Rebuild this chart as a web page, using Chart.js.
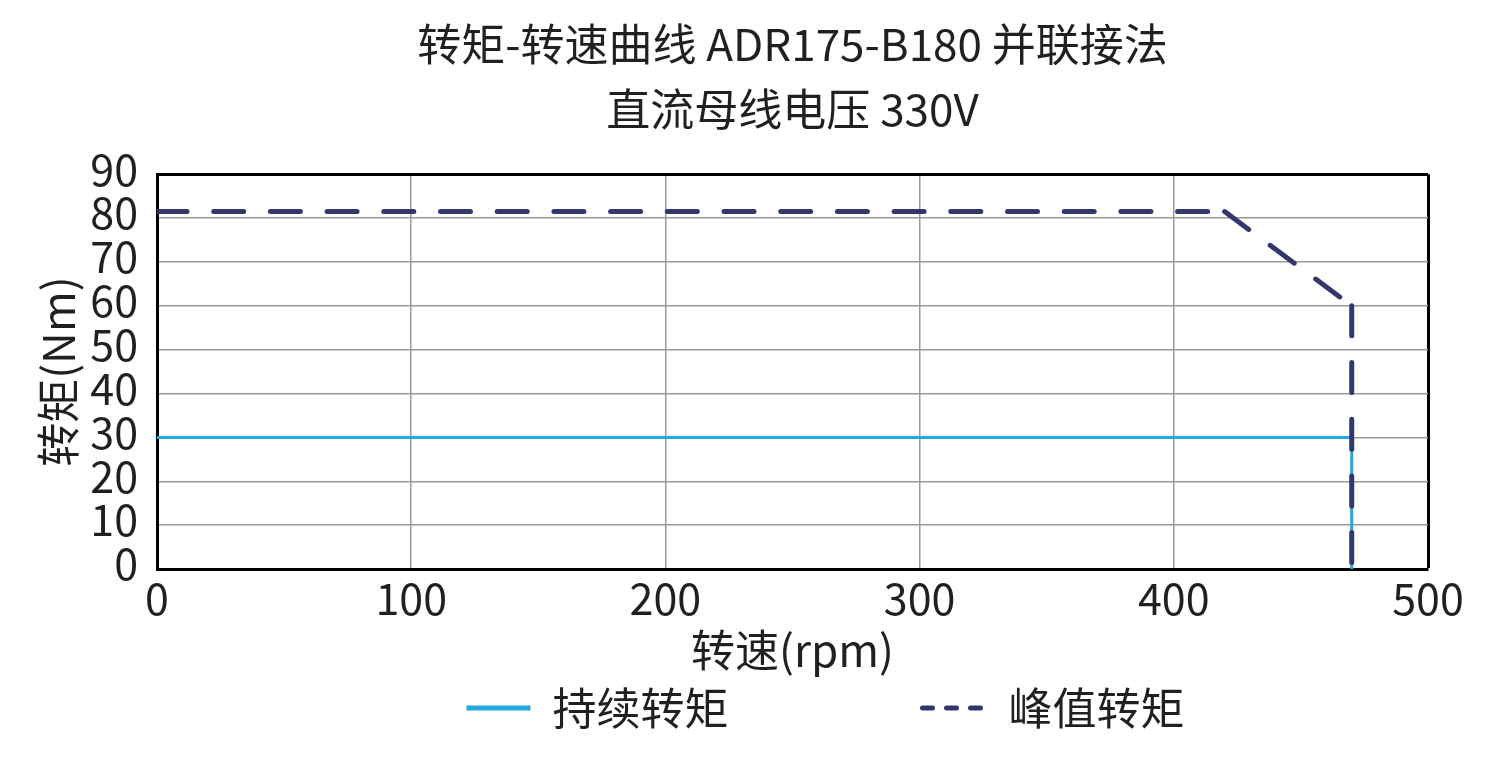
<!DOCTYPE html>
<html>
<head>
<meta charset="utf-8">
<script src="https://cdn.jsdelivr.net/npm/chart.js@4"></script>
<style>
  html, body { margin: 0; padding: 0; background: #fff; }
  #wrap { width: 1512px; height: 758px; }
</style>
</head>
<body>
<div id="wrap"><canvas id="myChart"></canvas></div>
<script>
// data
var speedCont = [0, 470, 470];
var torqueCont = [30, 30, 0];
var speedPeak = [0, 420, 470, 470];
var torquePeak = [81.5, 81.5, 60, 0];
var xTicks = [0, 100, 200, 300, 400, 500];
var yTicks = [0, 10, 20, 30, 40, 50, 60, 70, 80, 90];

var FONT = '"Noto Sans CJK SC", "Noto Sans", sans-serif';
var INK = '#231f20';

function pts(xs, ys) {
    return xs.map(function (x, i) { return { x: x, y: ys[i] }; });
}

// invisible legend entry, used only to space the real ones
function spacer(txt) {
    return {
        text: txt,
        fillStyle: 'rgba(0,0,0,0)',
        strokeStyle: 'rgba(0,0,0,0)',
        lineWidth: 0,
        pointStyle: 'line',
        hidden: false,
        datasetIndex: -1
    };
}

var ctx = document.getElementById('myChart').getContext('2d');

var chart = new Chart(ctx, {
    type: 'scatter',
    data: {
        datasets: [{
            label: '持续转矩',
            data: pts(speedCont, torqueCont),
            showLine: true,
            borderColor: '#22a9e0',
            backgroundColor: '#22a9e0',
            borderWidth: 3,
            pointRadius: 0,
            order: 2
        },
        {
            label: '峰值转矩',
            data: pts(speedPeak, torquePeak),
            showLine: true,
            borderColor: '#34376b',
            backgroundColor: '#34376b',
            borderWidth: 5,
            borderDash: [30, 26.7],
            borderCapStyle: 'round',
            // each segment restarts its dash pattern at its own start
            segment: {
                borderDashOffset: function (c) { return c.p0DataIndex * 0.01; }
            },
            pointRadius: 0,
            order: 1
        }]
    },
    options: {
        responsive: true,
        maintainAspectRatio: false,
        animation: false,
        layout: { padding: { left: 20, right: 84, top: 0, bottom: 18 } },
        plugins: {
            title: {
                display: true,
                text: ['转矩-转速曲线 ADR175-B180 并联接法', '直流母线电压 330V'],
                color: INK,
                fullSize: false,
                font: { family: FONT, size: 44, weight: 'normal', lineHeight: 1.48 },
                padding: { top: 12, bottom: 32 }
            },
            legend: {
                position: 'bottom',
                fullSize: false,
                labels: {
                    color: INK,
                    font: { family: FONT, size: 44 },
                    usePointStyle: true,
                    pointStyleWidth: 64,
                    padding: 10,
                    generateLabels: function (c) {
                        var items = Chart.defaults.plugins.legend.labels.generateLabels(c);
                        items.sort(function (a, b) { return a.datasetIndex - b.datasetIndex; });
                        items.forEach(function (it) {
                            it.pointStyle = 'line';
                            it.lineWidth = 5;
                            if (it.datasetIndex === 1) {
                                it.lineDash = [10, 14];
                                it.lineCap = 'round';
                            }
                        });
                        return [spacer('\u3000\u2002'), items[0], spacer('\u3000\u3000'), items[1], spacer('')];
                    }
                },
                onClick: function () {}
            },
            tooltip: { enabled: false }
        },
        scales: {
            x: {
                type: 'linear',
                min: 0,
                max: 500,
                afterBuildTicks: function (s) { s.ticks = xTicks.map(function (v) { return { value: v }; }); },
                afterFit: function (s) { s.height = 107; },
                grid: {
                    drawTicks: false,
                    color: function (c) { return c.tick && c.tick.value === 500 ? '#000' : '#9a9a9a'; },
                    lineWidth: function (c) { return c.tick && c.tick.value === 500 ? 3 : 1.5; }
                },
                border: { color: '#000', width: 3 },
                ticks: { color: INK, padding: 4, autoSkip: false, maxRotation: 0, font: { family: FONT, size: 43 } },
                title: {
                    display: true,
                    text: '转速(rpm)',
                    color: INK,
                    font: { family: FONT, size: 44, lineHeight: 1.1 },
                    padding: { top: 0, bottom: 2 }
                }
            },
            y: {
                type: 'linear',
                min: 0,
                max: 90,
                afterBuildTicks: function (s) { s.ticks = yTicks.map(function (v) { return { value: v }; }); },
                afterFit: function (s) { s.width = 137; },
                grid: {
                    drawTicks: false,
                    color: function (c) { return c.tick && c.tick.value === 90 ? '#000' : '#9a9a9a'; },
                    lineWidth: function (c) { return c.tick && c.tick.value === 90 ? 3 : 1.5; }
                },
                border: { color: '#000', width: 3 },
                ticks: { color: INK, padding: 19, labelOffset: -5, autoSkip: false, font: { family: FONT, size: 43 } },
                title: {
                    display: true,
                    text: '转矩(Nm)',
                    color: INK,
                    font: { family: FONT, size: 44 },
                    padding: { top: 12, bottom: 0 }
                }
            }
        }
    }
});
</script>
</body>
</html>
